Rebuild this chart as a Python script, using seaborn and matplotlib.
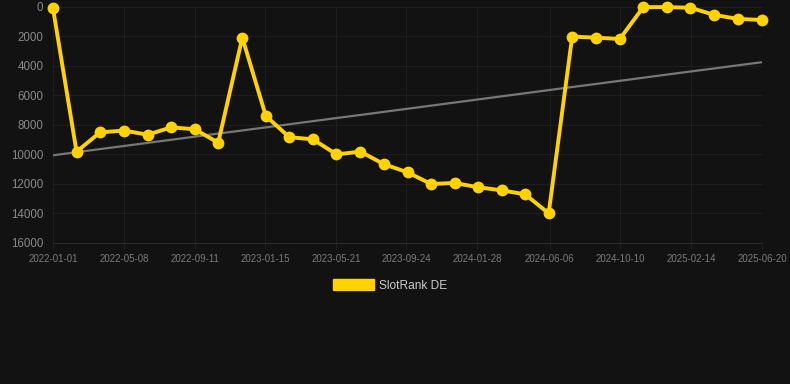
import seaborn as sns
import matplotlib.pyplot as plt
from matplotlib.patches import Patch
import pandas as pd
import numpy as np

# datos
dates = ["2022-01-01", "2022-02-12", "2022-03-26", "2022-05-08", "2022-06-19",
         "2022-07-31", "2022-09-11", "2022-10-23", "2022-12-05", "2023-01-16",
         "2023-02-27", "2023-04-10", "2023-05-22", "2023-07-04", "2023-08-15",
         "2023-09-26", "2023-11-07", "2023-12-19", "2024-01-30", "2024-03-12",
         "2024-04-23", "2024-06-04", "2024-07-16", "2024-08-28", "2024-10-09",
         "2024-11-20", "2025-01-01", "2025-02-12", "2025-03-27", "2025-05-08",
         "2025-06-20"]
ranks = [90, 9810, 8500, 8380, 8660, 8160, 8290, 9200, 2080, 7390,
         8830, 8970, 9990, 9810, 10660, 11210, 12000, 11930, 12220, 12430,
         12700, 13990, 2010, 2080, 2170, 10, 10, 50, 540, 810,
         880]
tick_dates = ["2022-01-01", "2022-05-08", "2022-09-11", "2023-01-15", "2023-05-21",
              "2023-09-24", "2024-01-28", "2024-06-06", "2024-10-10", "2025-02-14",
              "2025-06-20"]
y_ticks = [0, 2000, 4000, 6000, 8000, 10000, 12000, 14000, 16000]

df = pd.DataFrame({"date": pd.to_datetime(dates), "rank": ranks})

# linea de tendencia (regresion lineal)
idx = np.arange(len(df))
m, b = np.polyfit(idx, df["rank"], 1)
df["trend"] = m * idx + b

bg = "#121212"
gold = "#FFD200"
fig = plt.figure(figsize=(7.9, 3.84), dpi=100, facecolor=bg)
ax = fig.add_axes([0.0671, 0.3672, 0.8975, 0.6146])
ax.set_facecolor(bg)

sns.lineplot(data=df, x="date", y="trend", ax=ax, color="#777777", linewidth=1.6, zorder=2)
sns.lineplot(data=df, x="date", y="rank", ax=ax, color=gold, linewidth=2.8,
             marker="o", markersize=8.5, markeredgewidth=0, zorder=3, clip_on=False)

ax.set_ylim(16000, 0)
ax.set_xlim(pd.Timestamp("2022-01-01"), pd.Timestamp("2025-06-20"))
ax.set_yticks(y_ticks)
ax.set_yticklabels([str(v) for v in y_ticks])
ax.set_xticks(pd.to_datetime(tick_dates))
ax.set_xticklabels(tick_dates)

ax.grid(True, color="#1e1e1e", linewidth=0.8)
ax.tick_params(axis="y", length=0, labelcolor="#8a8a8a", labelsize=8.3, pad=7)
ax.tick_params(axis="x", colors="#1e1e1e", labelcolor="#7a7a7a", labelsize=7, length=4, pad=4)
for lbl in ax.get_xticklabels() + ax.get_yticklabels():
    lbl.set_family("Liberation Sans")
for s in ax.spines.values():
    s.set_visible(False)
ax.spines["bottom"].set_visible(True)
ax.spines["bottom"].set_color("#2a2a2a")
ax.set_xlabel("")
ax.set_ylabel("")

handle = Patch(facecolor=gold, edgecolor=gold)
leg = fig.legend([handle], ["SlotRank DE"], loc="center", bbox_to_anchor=(0.494, 0.256),
                 frameon=False, handlelength=3.4, handleheight=1.0, handletextpad=0.5,
                 prop={"family": "Liberation Sans", "size": 8.6})
for t in leg.get_texts():
    t.set_color("#cccccc")

fig.savefig("out.png", dpi=100, facecolor=bg)
